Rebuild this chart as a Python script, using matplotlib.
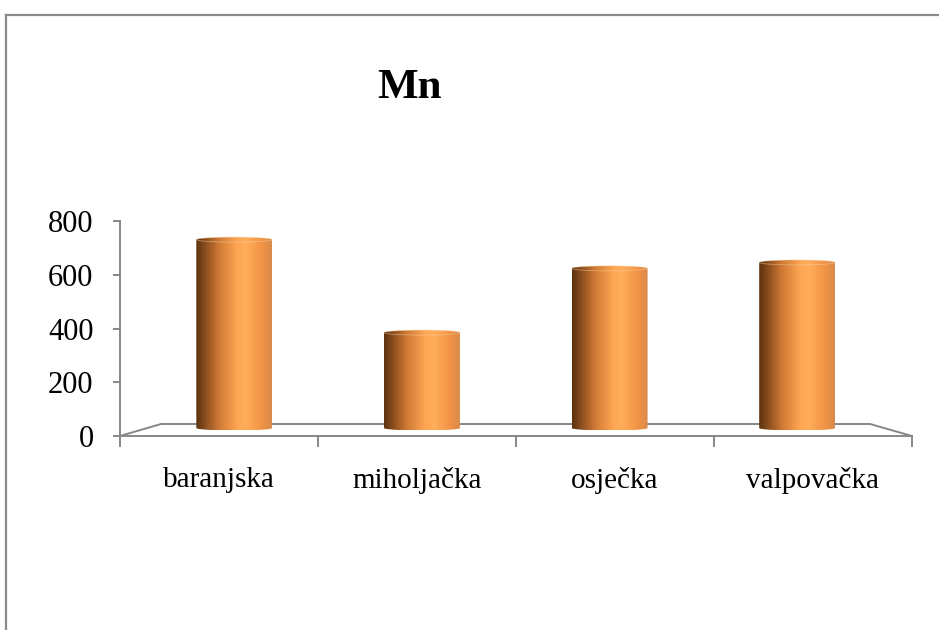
import numpy as np
import matplotlib
matplotlib.use('Agg')
import matplotlib.pyplot as plt
from matplotlib.colors import LinearSegmentedColormap
from matplotlib.transforms import Affine2D
from matplotlib.path import Path
from matplotlib.patches import PathPatch, ConnectionPatch, Ellipse
from matplotlib.lines import Line2D

# ---- data ----
categories = ['baranjska', 'miholjačka', 'osječka', 'valpovačka']
values = [701, 355, 594, 616]
title = 'Mn'
yticks = [0, 200, 400, 600, 800]

plt.rcParams['font.family'] = ['Liberation Serif', 'DejaVu Serif']

W, H = 939, 630
fig = plt.figure(figsize=(W / 100, H / 100), dpi=100)
ax = fig.add_axes([120 / W, (H - 436) / H, 792 / W, 215 / H])
ax.set_xlim(0, len(categories))
ax.set_ylim(0, 800)

axis_col = '#878787'
px_per_x = 792 / len(categories)
px_per_y = 215 / 800

# perspective depth transform (0 = front plane, 1 = back plane)
def depth_tr(fx, fy_px):
    s = 1 - fx * (1 - 709 / 792)
    t = fx * 41 / px_per_x
    dy = fy_px / px_per_y
    return Affine2D().scale(s, 1).translate(t, dy) + ax.transData

back_tr = depth_tr(1.0, 12)
bar_tr = depth_tr(0.5, 8)

# floor
ax.plot([0, len(categories)], [0, 0], transform=back_tr, color=axis_col,
        lw=1.4, clip_on=False, zorder=1)
for xe in (0, len(categories)):
    cp = ConnectionPatch(xyA=(xe, 0), coordsA=ax.transData, xyB=(xe, 0),
                         coordsB=back_tr, color=axis_col, lw=1.4, zorder=1)
    ax.add_artist(cp)

# cylinder gradient
cmap = LinearSegmentedColormap.from_list('cyl', [
    (0.0, '#5a3210'), (0.12, '#8a4d1d'), (0.3, '#cf7935'),
    (0.55, '#ffa752'), (0.66, '#ffad5b'), (0.86, '#f39446'), (1.0, '#d8894a')])
grad = cmap(np.linspace(0, 1, 256))[None, :, :3]

bar_w = 76 / px_per_x / (1 - 0.5 * (1 - 709 / 792))
hw = bar_w / 2
e = 2.5 / px_per_y
th_top = np.linspace(np.pi, 0, 60)
th_bot = np.linspace(0, -np.pi, 60)
for i, v in enumerate(values):
    xc = i + 0.5
    verts = list(zip(xc + hw * np.cos(th_top), v + e * np.sin(th_top)))
    verts += list(zip(xc + hw * np.cos(th_bot), 0 + e * np.sin(th_bot)))
    verts.append(verts[0])
    codes = [Path.MOVETO] + [Path.LINETO] * (len(verts) - 2) + [Path.CLOSEPOLY]
    patch = PathPatch(Path(verts, codes), transform=bar_tr, facecolor='none',
                      edgecolor='none', clip_on=False)
    ax.add_patch(patch)
    im = ax.imshow(grad, extent=(xc - hw, xc + hw, -e, v + e), aspect='auto',
                   interpolation='bilinear', transform=bar_tr, zorder=3)
    im.set_clip_path(patch)
    cap = Ellipse((xc, v), 2 * hw, 2 * e, transform=bar_tr, facecolor='none',
                  edgecolor='#fbd3a6', lw=0.6, alpha=0.5, zorder=4, clip_on=False)
    ax.add_patch(cap)

ax.set_xlim(0, len(categories))
ax.set_ylim(0, 800)

# axes styling
for s in ('top', 'right'):
    ax.spines[s].set_visible(False)
for s in ('left', 'bottom'):
    ax.spines[s].set_color(axis_col)
    ax.spines[s].set_linewidth(1.4)
ax.spines['bottom'].set_zorder(2)

ax.set_yticks(yticks)
ax.set_yticklabels([str(t) for t in yticks])
ax.tick_params(axis='y', length=5, width=1.4, color=axis_col, pad=14,
               labelsize=22, labelcolor='black')

ax.set_xticks(np.arange(len(categories) + 1))
ax.set_xticklabels([])
ax.tick_params(axis='x', which='major', length=8, width=1.4, color=axis_col)
ax.set_xticks(np.arange(len(categories)) + 0.5, minor=True)
ax.set_xticklabels(categories, minor=True)
ax.tick_params(axis='x', which='minor', length=0, pad=22, labelsize=21,
               labelcolor='black')

# title
fig.text(410 / W, 1 - 88 / H, title, fontsize=31, fontweight='bold',
         ha='center', va='center')

# outer frame (partially visible)
fig.add_artist(Line2D([5.5 / W, 5.5 / W], [0, 1 - 15 / H], transform=fig.transFigure,
                      color='#8a8a8a', lw=1.6))
fig.add_artist(Line2D([5.5 / W, 1], [1 - 15 / H, 1 - 15 / H], transform=fig.transFigure,
                      color='#8a8a8a', lw=1.6))

fig.savefig('out.png', dpi=100)
